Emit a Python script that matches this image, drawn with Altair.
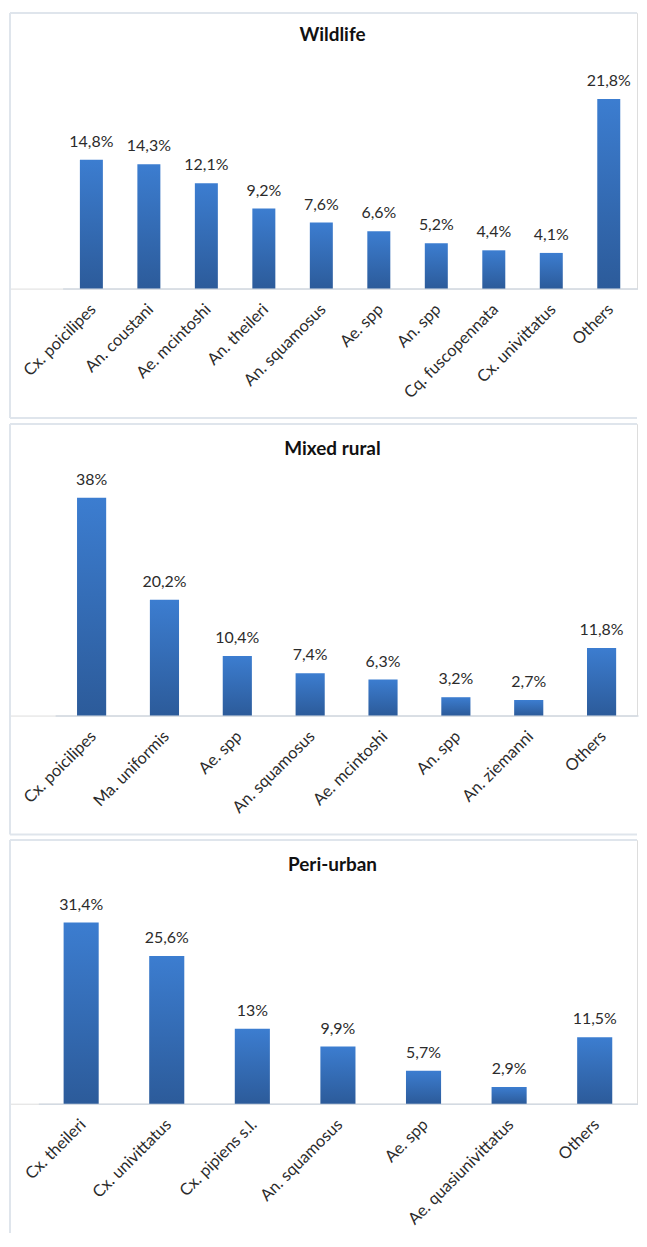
import altair as alt
import pandas as pd

# ---------------- data ----------------
wild_species = ["Cx. poicilipes", "An. coustani", "Ae. mcintoshi", "An. theileri",
                "An. squamosus", "Ae. spp", "An. spp", "Cq. fuscopennata",
                "Cx. univittatus", "Others"]
wild_values = [14.8, 14.3, 12.1, 9.2, 7.6, 6.6, 5.2, 4.4, 4.1, 21.8]

mixed_species = ["Cx. poicilipes", "Ma. uniformis", "Ae. spp", "An. squamosus",
                 "Ae. mcintoshi", "An. spp", "An. ziemanni", "Others"]
mixed_values = [38, 20.2, 10.4, 7.4, 6.3, 3.2, 2.7, 11.8]

peri_species = ["Cx. theileri", "Cx. univittatus", "Cx. pipiens s.l.", "An. squamosus",
                "Ae. spp", "Ae. quasiunivittatus", "Others"]
peri_values = [31.4, 25.6, 13, 9.9, 5.7, 2.9, 11.5]

titles = ["Wildlife", "Mixed rural", "Peri-urban"]

FONT = "Lato"
PLOT_W = 630          # common plot width; plot origin = page x 8
TITLE_X = 324         # page x 332
BORDER = "#dfe5ec"

bar_gradient = alt.Gradient(
    gradient="linear",
    stops=[alt.GradientStop(color="#3c7dd0", offset=0),
           alt.GradientStop(color="#2c5b9a", offset=1)],
    x1=0, x2=0, y1=0, y2=1,
)


def fmt(v):
    return f"{v:g}".replace(".", ",") + "%"


def panel(title, species, values, x_range, height, ymax, title_y,
          bottom, pad_inner, draw_bottom=True):
    df = pd.DataFrame({"species": species, "value": values,
                       "label": [fmt(v) for v in values]})
    x = alt.X("species:N", sort=species, title=None,
              scale=alt.Scale(range=x_range, paddingInner=pad_inner,
                              paddingOuter=pad_inner / 2),
              axis=alt.Axis(labelAngle=-45, labelAlign="right", labelBaseline="middle",
                            labelPadding=18, labelOffset=2, ticks=False, tickSize=0,
                            domainColor="#d3dae2", domainWidth=1.5,
                            labelFont=FONT, labelFontSize=16.5, labelColor="#2b2b2b",
                            labelLimit=300))
    y = alt.Y("value:Q", scale=alt.Scale(domain=[0, ymax], nice=False, zero=True),
              axis=None)
    base = alt.Chart(df)
    bars = base.mark_bar(color=bar_gradient).encode(x=x, y=y)
    text = base.mark_text(baseline="middle", dy=-18, font=FONT, fontSize=16,
                          color="#2b2b2b").encode(x=x, y=y, text="label:N")

    one = alt.Data(values=[{"t": title}])
    ttl = alt.Chart(one).mark_text(font=FONT, fontSize=19, fontWeight="bold",
                                   color="#111111", baseline="middle",
                                   align="center").encode(
        x=alt.value(TITLE_X), y=alt.value(title_y), text="t:N")
    top_rule = alt.Chart(one).mark_rule(color=BORDER, strokeWidth=2).encode(
        x=alt.value(0), x2=alt.value(PLOT_W), y=alt.value(0))
    left_rule = alt.Chart(one).mark_rule(color=BORDER, strokeWidth=2).encode(
        x=alt.value(0), y=alt.value(0), y2=alt.value(bottom))
    layers = [top_rule, left_rule]
    if draw_bottom:
        bot_rule = alt.Chart(one).mark_rule(color=BORDER, strokeWidth=2).encode(
            x=alt.value(0), x2=alt.value(PLOT_W), y=alt.value(bottom))
        layers.append(bot_rule)
    layers += [bars, text, ttl]
    return alt.layer(*layers).properties(width=PLOT_W, height=height)


p1 = panel(titles[0], wild_species, wild_values, x_range=[52.9, 630.5],
           height=277, ymax=277 / 8.74, title_y=22, bottom=407, pad_inner=0.6)
p2 = panel(titles[1], mixed_species, mixed_values, x_range=[45.4, 631],
           height=293, ymax=293 / 5.76, title_y=25, bottom=412.5, pad_inner=0.6)
p3 = panel(titles[2], peri_species, peri_values, x_range=[28.5, 630.5],
           height=265, ymax=265 / 5.8, title_y=25, bottom=395, pad_inner=0.59,
           draw_bottom=False)

chart = alt.vconcat(p1, p2, p3, spacing=2).properties(padding=0).configure_view(
    stroke=None).configure(background="white")

chart.save("out.html", embed_options={"renderer": "svg", "actions": False})
